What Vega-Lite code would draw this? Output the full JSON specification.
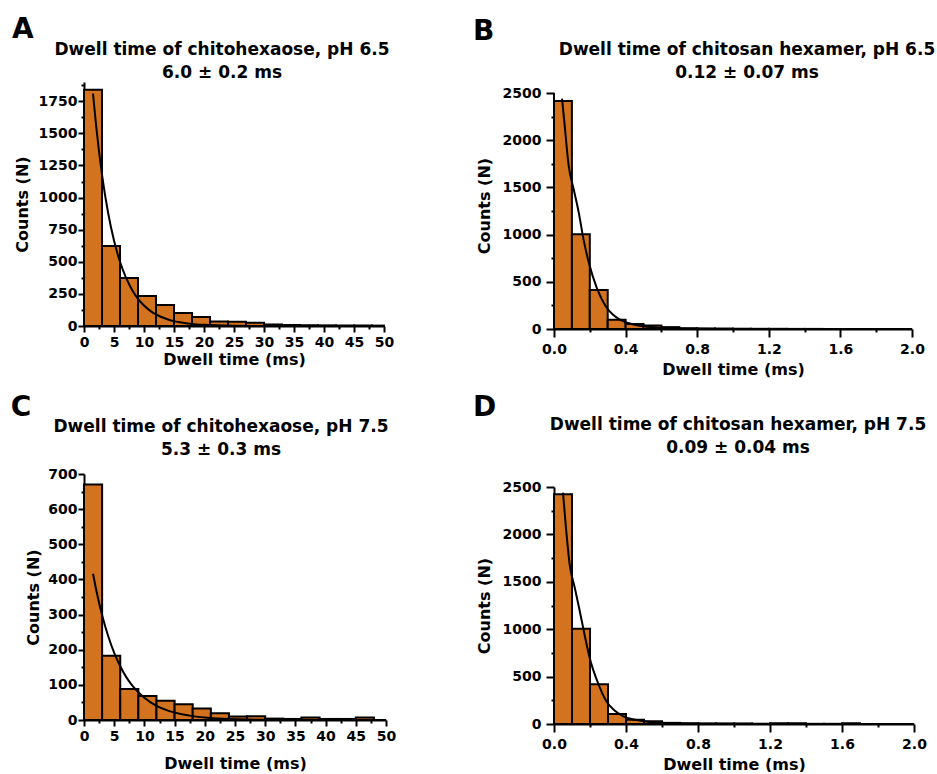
{
  "$schema": "https://vega.github.io/schema/vega-lite/v6.json",
  "background": "white",
  "padding": {"left": 10, "top": 16, "right": 2, "bottom": 0},
  "datasets": {
    "barsA": [
      {"x0": 0, "x1": 3, "n": 1840}, {"x0": 3, "x1": 6, "n": 622}, {"x0": 6, "x1": 9, "n": 373},
      {"x0": 9, "x1": 12, "n": 233}, {"x0": 12, "x1": 15, "n": 163}, {"x0": 15, "x1": 18, "n": 101},
      {"x0": 18, "x1": 21, "n": 70}, {"x0": 21, "x1": 24, "n": 36}, {"x0": 24, "x1": 27, "n": 34},
      {"x0": 27, "x1": 30, "n": 26}, {"x0": 30, "x1": 33, "n": 12}, {"x0": 33, "x1": 36, "n": 8},
      {"x0": 36, "x1": 39, "n": 6}, {"x0": 39, "x1": 42, "n": 5}, {"x0": 42, "x1": 45, "n": 4},
      {"x0": 45, "x1": 48, "n": 4}, {"x0": 48, "x1": 50, "n": 3}
    ],
    "fitA": [
      {"t": 1.5, "n": 1810}, {"t": 2, "n": 1569}, {"t": 3, "n": 1179}, {"t": 4, "n": 886},
      {"t": 5, "n": 666}, {"t": 6, "n": 500}, {"t": 7, "n": 376}, {"t": 8, "n": 283},
      {"t": 9, "n": 212}, {"t": 10, "n": 160}, {"t": 11, "n": 120}, {"t": 12, "n": 90},
      {"t": 13, "n": 68}, {"t": 14, "n": 51}, {"t": 15, "n": 38}, {"t": 16, "n": 29},
      {"t": 18, "n": 16}, {"t": 20, "n": 9}, {"t": 22, "n": 5}, {"t": 25, "n": 2},
      {"t": 30, "n": 0.4}, {"t": 50, "n": 0}
    ],
    "barsB": [
      {"x0": 0, "x1": 0.1, "n": 2415}, {"x0": 0.1, "x1": 0.2, "n": 1005}, {"x0": 0.2, "x1": 0.3, "n": 413},
      {"x0": 0.3, "x1": 0.4, "n": 97}, {"x0": 0.4, "x1": 0.5, "n": 52}, {"x0": 0.5, "x1": 0.6, "n": 38},
      {"x0": 0.6, "x1": 0.7, "n": 20}, {"x0": 0.7, "x1": 0.8, "n": 8}, {"x0": 0.8, "x1": 0.9, "n": 6},
      {"x0": 0.9, "x1": 1.0, "n": 5}, {"x0": 1.0, "x1": 1.1, "n": 3}, {"x0": 1.1, "x1": 1.2, "n": 2},
      {"x0": 1.2, "x1": 1.3, "n": 2}, {"x0": 1.3, "x1": 1.4, "n": 1}, {"x0": 1.4, "x1": 1.5, "n": 1}
    ],
    "fitB": [
      {"t": 0.045, "n": 2440}, {"t": 0.06, "n": 2150}, {"t": 0.082, "n": 1730}, {"t": 0.11, "n": 1480},
      {"t": 0.138, "n": 1236}, {"t": 0.165, "n": 950}, {"t": 0.194, "n": 706}, {"t": 0.24, "n": 430},
      {"t": 0.287, "n": 247}, {"t": 0.33, "n": 150}, {"t": 0.38, "n": 88}, {"t": 0.45, "n": 45},
      {"t": 0.5, "n": 28}, {"t": 0.6, "n": 12}, {"t": 0.7, "n": 5}, {"t": 0.8, "n": 2},
      {"t": 1.0, "n": 0.5}, {"t": 2.0, "n": 0}
    ],
    "axisB": [{"x": 0, "y0": 0, "y1": 2500}],
    "barsC": [
      {"x0": 0, "x1": 3, "n": 670}, {"x0": 3, "x1": 6, "n": 183}, {"x0": 6, "x1": 9, "n": 88},
      {"x0": 9, "x1": 12, "n": 68}, {"x0": 12, "x1": 15, "n": 55}, {"x0": 15, "x1": 18, "n": 45},
      {"x0": 18, "x1": 21, "n": 33}, {"x0": 21, "x1": 24, "n": 19}, {"x0": 24, "x1": 27, "n": 10},
      {"x0": 27, "x1": 30, "n": 11}, {"x0": 30, "x1": 33, "n": 4}, {"x0": 33, "x1": 36, "n": 3},
      {"x0": 36, "x1": 39, "n": 7}, {"x0": 39, "x1": 42, "n": 3}, {"x0": 42, "x1": 45, "n": 3},
      {"x0": 45, "x1": 48, "n": 7}
    ],
    "fitC": [
      {"t": 1.5, "n": 416}, {"t": 2, "n": 372}, {"t": 3, "n": 298}, {"t": 4, "n": 239},
      {"t": 5, "n": 191}, {"t": 6, "n": 153}, {"t": 7, "n": 122}, {"t": 8, "n": 98},
      {"t": 9, "n": 79}, {"t": 10, "n": 63}, {"t": 12, "n": 40}, {"t": 14, "n": 26},
      {"t": 16, "n": 17}, {"t": 18, "n": 11}, {"t": 20, "n": 7}, {"t": 23, "n": 3.5},
      {"t": 30, "n": 0.7}, {"t": 50, "n": 0}
    ],
    "barsD": [
      {"x0": 0, "x1": 0.1, "n": 2423}, {"x0": 0.1, "x1": 0.2, "n": 1005}, {"x0": 0.2, "x1": 0.3, "n": 419},
      {"x0": 0.3, "x1": 0.4, "n": 105}, {"x0": 0.4, "x1": 0.5, "n": 45}, {"x0": 0.5, "x1": 0.6, "n": 28},
      {"x0": 0.6, "x1": 0.7, "n": 12}, {"x0": 0.7, "x1": 0.8, "n": 8}, {"x0": 0.8, "x1": 0.9, "n": 6},
      {"x0": 0.9, "x1": 1.0, "n": 6}, {"x0": 1.0, "x1": 1.1, "n": 6}, {"x0": 1.1, "x1": 1.2, "n": 3},
      {"x0": 1.2, "x1": 1.3, "n": 8}, {"x0": 1.3, "x1": 1.4, "n": 8}, {"x0": 1.4, "x1": 1.5, "n": 2},
      {"x0": 1.5, "x1": 1.6, "n": 2}, {"x0": 1.6, "x1": 1.7, "n": 8}
    ],
    "fitD": [
      {"t": 0.05, "n": 2440}, {"t": 0.065, "n": 2100}, {"t": 0.087, "n": 1685}, {"t": 0.115, "n": 1440},
      {"t": 0.143, "n": 1192}, {"t": 0.17, "n": 940}, {"t": 0.198, "n": 700}, {"t": 0.245, "n": 430},
      {"t": 0.29, "n": 243}, {"t": 0.335, "n": 145}, {"t": 0.383, "n": 84}, {"t": 0.45, "n": 45},
      {"t": 0.5, "n": 30}, {"t": 0.6, "n": 12}, {"t": 0.7, "n": 5}, {"t": 0.8, "n": 2},
      {"t": 1.0, "n": 0.5}, {"t": 2.0, "n": 0}
    ]
  },
  "config": {
    "view": {"stroke": null},
    "font": "DejaVu Sans",
    "axis": {
      "domainColor": "black", "domainWidth": 2, "tickColor": "black", "tickWidth": 2,
      "labelFont": "DejaVu Sans", "labelFontWeight": "bold", "labelFontSize": 14, "labelColor": "black",
      "labelFlush": false, "labelOverlap": false,
      "titleFont": "DejaVu Sans", "titleFontWeight": "bold", "titleFontSize": 16, "titleColor": "black",
      "grid": false
    },
    "title": {"font": "DejaVu Sans", "fontWeight": "bold", "color": "black"}
  },
  "spacing": 77,
  "hconcat": [
    {
      "spacing": 27,
      "vconcat": [
        {
          "title": {"text": "A", "anchor": "start", "frame": "bounds", "fontSize": 28, "offset": -3, "dx": -2},
          "vconcat": [
            {
              "width": 300, "height": 244,
              "title": {"text": ["Dwell time of chitohexaose, pH 6.5", "6.0 ± 0.2 ms"], "fontSize": 17, "lineHeight": 23, "anchor": "middle", "frame": "group", "dx": -12, "offset": 0},
              "layer": [
                {
                  "data": {"name": "barsA"},
                  "mark": {"type": "rect", "fill": "#D4731F", "stroke": "black", "strokeWidth": 2},
                  "encoding": {
                    "x": {"field": "x0", "type": "quantitative", "scale": {"domain": [0, 50], "nice": false},
                          "axis": {"orient": "bottom", "values": [0, 5, 10, 15, 20, 25, 30, 35, 40, 45, 50], "format": "d", "tickSize": 6, "labelPadding": 3, "title": "Dwell time (ms)", "titlePadding": 2}},
                    "x2": {"field": "x1"},
                    "y": {"field": "n", "type": "quantitative", "scale": {"domain": [0, 1900], "nice": false},
                          "axis": {"orient": "left", "values": [0, 250, 500, 750, 1000, 1250, 1500, 1750], "format": "d", "tickSize": 6, "labelPadding": 1, "title": "Counts (N)", "titlePadding": 8}},
                    "y2": {"datum": 0}
                  }
                },
                {
                  "data": {"name": "fitA"},
                  "mark": {"type": "line", "color": "black", "strokeWidth": 2, "interpolate": "monotone"},
                  "encoding": {
                    "x": {"field": "t", "type": "quantitative",
                          "axis": {"orient": "bottom", "values": [2.5, 7.5, 12.5, 17.5, 22.5, 27.5, 32.5, 37.5, 42.5, 47.5], "labels": false, "domain": false, "tickSize": 3, "title": null}},
                    "y": {"field": "n", "type": "quantitative",
                          "axis": {"orient": "left", "values": [125, 375, 625, 875, 1125, 1375, 1625, 1875], "labels": false, "domain": false, "tickSize": 3, "title": null}}
                  }
                }
              ],
              "resolve": {"axis": {"x": "independent", "y": "independent"}}
            }
          ]
        },
        {
          "title": {"text": "C", "anchor": "start", "frame": "bounds", "fontSize": 28, "offset": -4, "dx": -15},
          "vconcat": [
            {
              "width": 302, "height": 246,
              "title": {"text": ["Dwell time of chitohexaose, pH 7.5", "5.3 ± 0.3 ms"], "fontSize": 17, "lineHeight": 23, "anchor": "middle", "frame": "group", "dx": -14, "offset": 8},
              "layer": [
                {
                  "data": {"name": "barsC"},
                  "mark": {"type": "rect", "fill": "#D4731F", "stroke": "black", "strokeWidth": 2},
                  "encoding": {
                    "x": {"field": "x0", "type": "quantitative", "scale": {"domain": [0, 50], "nice": false},
                          "axis": {"orient": "bottom", "values": [0, 5, 10, 15, 20, 25, 30, 35, 40, 45, 50], "format": "d", "tickSize": 6, "labelPadding": 3, "title": "Dwell time (ms)", "titlePadding": 12}},
                    "x2": {"field": "x1"},
                    "y": {"field": "n", "type": "quantitative", "scale": {"domain": [0, 700], "nice": false},
                          "axis": {"orient": "left", "values": [0, 100, 200, 300, 400, 500, 600, 700], "format": "d", "tickSize": 6, "labelPadding": 1, "title": "Counts (N)", "titlePadding": 6}},
                    "y2": {"datum": 0}
                  }
                },
                {
                  "data": {"name": "fitC"},
                  "mark": {"type": "line", "color": "black", "strokeWidth": 2, "interpolate": "monotone"},
                  "encoding": {
                    "x": {"field": "t", "type": "quantitative",
                          "axis": {"orient": "bottom", "values": [2.5, 7.5, 12.5, 17.5, 22.5, 27.5, 32.5, 37.5, 42.5, 47.5], "labels": false, "domain": false, "tickSize": 3, "title": null}},
                    "y": {"field": "n", "type": "quantitative",
                          "axis": {"orient": "left", "values": [50, 150, 250, 350, 450, 550, 650], "labels": false, "domain": false, "tickSize": 3, "title": null}}
                  }
                }
              ],
              "resolve": {"axis": {"x": "independent", "y": "independent"}}
            }
          ]
        }
      ]
    },
    {
      "spacing": 17,
      "vconcat": [
        {
          "title": {"text": "B", "anchor": "start", "frame": "bounds", "fontSize": 28, "offset": -5, "dx": -3},
          "vconcat": [
            {
              "width": 358, "height": 247,
              "title": {"text": ["Dwell time of chitosan hexamer, pH 6.5", "0.12 ± 0.07 ms"], "fontSize": 17, "lineHeight": 23, "anchor": "middle", "frame": "group", "dx": 14, "offset": 0},
              "layer": [
                {
                  "data": {"name": "barsB"},
                  "mark": {"type": "rect", "fill": "#D4731F", "stroke": "black", "strokeWidth": 2},
                  "encoding": {
                    "x": {"field": "x0", "type": "quantitative", "scale": {"domain": [0, 2], "nice": false},
                          "axis": {"orient": "bottom", "values": [0, 0.4, 0.8, 1.2, 1.6, 2.0], "format": ".1f", "tickSize": 8, "labelPadding": 5, "title": "Dwell time (ms)", "titlePadding": 5}},
                    "x2": {"field": "x1"},
                    "y": {"field": "n", "type": "quantitative", "scale": {"domain": [0, 2617], "nice": false},
                          "axis": {"orient": "left", "values": [0, 500, 1000, 1500, 2000, 2500], "format": "d", "domain": false, "tickSize": 8, "labelPadding": 5, "title": "Counts (N)", "titlePadding": 10}},
                    "y2": {"datum": 0}
                  }
                },
                {
                  "data": {"name": "fitB"},
                  "mark": {"type": "line", "color": "black", "strokeWidth": 2, "interpolate": "monotone"},
                  "encoding": {
                    "x": {"field": "t", "type": "quantitative",
                          "axis": {"orient": "bottom", "values": [0.2, 0.6, 1.0, 1.4, 1.8], "labels": false, "domain": false, "tickSize": 3, "title": null}},
                    "y": {"field": "n", "type": "quantitative",
                          "axis": {"orient": "left", "values": [250, 750, 1250, 1750, 2250], "labels": false, "domain": false, "tickSize": 3, "title": null}}
                  }
                },
                {
                  "data": {"name": "axisB"},
                  "mark": {"type": "rule", "color": "black", "strokeWidth": 2},
                  "encoding": {
                    "x": {"field": "x", "type": "quantitative", "axis": null},
                    "y": {"field": "y0", "type": "quantitative", "axis": null},
                    "y2": {"field": "y1"}
                  }
                }
              ],
              "resolve": {"axis": {"x": "independent", "y": "independent"}}
            }
          ]
        },
        {
          "title": {"text": "D", "anchor": "start", "frame": "bounds", "fontSize": 28, "offset": -6, "dx": -3},
          "vconcat": [
            {
              "width": 360, "height": 237,
              "title": {"text": ["Dwell time of chitosan hexamer, pH 7.5", "0.09 ± 0.04 ms"], "fontSize": 17, "lineHeight": 23, "anchor": "middle", "frame": "group", "dx": 4, "offset": 23},
              "layer": [
                {
                  "data": {"name": "barsD"},
                  "mark": {"type": "rect", "fill": "#D4731F", "stroke": "black", "strokeWidth": 2},
                  "encoding": {
                    "x": {"field": "x0", "type": "quantitative", "scale": {"domain": [0, 2], "nice": false},
                          "axis": {"orient": "bottom", "values": [0, 0.4, 0.8, 1.2, 1.6, 2.0], "format": ".1f", "tickSize": 8, "labelPadding": 5, "title": "Dwell time (ms)", "titlePadding": 5}},
                    "x2": {"field": "x1"},
                    "y": {"field": "n", "type": "quantitative", "scale": {"domain": [0, 2500], "nice": false},
                          "axis": {"orient": "left", "values": [0, 500, 1000, 1500, 2000, 2500], "format": "d", "tickSize": 8, "labelPadding": 5, "title": "Counts (N)", "titlePadding": 10}},
                    "y2": {"datum": 0}
                  }
                },
                {
                  "data": {"name": "fitD"},
                  "mark": {"type": "line", "color": "black", "strokeWidth": 2, "interpolate": "monotone"},
                  "encoding": {
                    "x": {"field": "t", "type": "quantitative",
                          "axis": {"orient": "bottom", "values": [0.2, 0.6, 1.0, 1.4, 1.8], "labels": false, "domain": false, "tickSize": 3, "title": null}},
                    "y": {"field": "n", "type": "quantitative",
                          "axis": {"orient": "left", "values": [250, 750, 1250, 1750, 2250], "labels": false, "domain": false, "tickSize": 3, "title": null}}
                  }
                }
              ],
              "resolve": {"axis": {"x": "independent", "y": "independent"}}
            }
          ]
        }
      ]
    }
  ]
}
